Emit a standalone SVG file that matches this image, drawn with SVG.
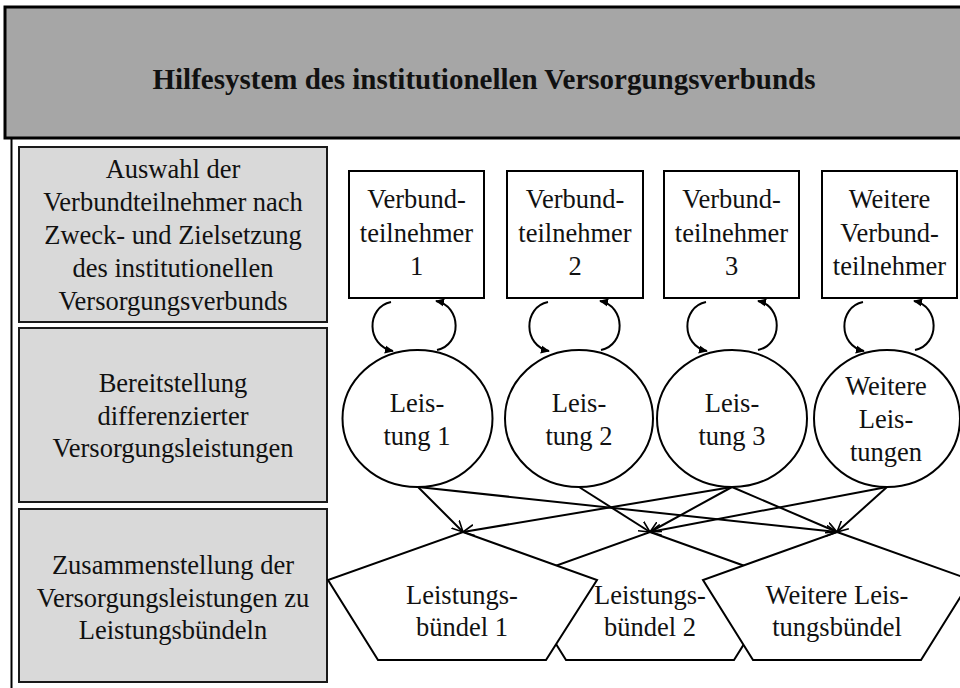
<svg xmlns="http://www.w3.org/2000/svg" width="960" height="688" viewBox="0 0 960 688">
  <style>
    text { font-family: "Liberation Serif", "DejaVu Serif", serif; font-size: 26.5px; fill: #111; text-anchor: middle; }
    .title { font-weight: bold; font-size: 29px; }
    .stage { fill: #d9d9d9; stroke: #1a1a1a; stroke-width: 2; }
    .shape { fill: #fff; stroke: #000; stroke-width: 2; }
    .link { fill: none; stroke: #000; stroke-width: 2; marker-end: url(#open); }
    .loop { fill: none; stroke: #000; stroke-width: 2; marker-end: url(#solid); }
  </style>
  <defs>
    <marker id="open" viewBox="0 0 12 12" refX="11" refY="6" markerWidth="12" markerHeight="12" markerUnits="userSpaceOnUse" orient="auto">
      <path d="M0,0.5 L11,6 L0,11.5" fill="none" stroke="#000" stroke-width="1.6"/>
    </marker>
    <marker id="solid" viewBox="0 0 10 10" refX="9" refY="5" markerWidth="9" markerHeight="9" markerUnits="userSpaceOnUse" orient="auto">
      <path d="M0,0.5 L10,5 L0,9.5 Z" fill="#000"/>
    </marker>
  </defs>

  <!-- frame and header -->
  <g id="header">
    <rect x="5" y="7" width="965" height="131" fill="#a6a6a6" stroke="#000" stroke-width="3"/>
    <text class="title" x="484" y="89">Hilfesystem des institutionellen Versorgungsverbunds</text>
  </g>
  <line x1="11.5" y1="138" x2="11.5" y2="688" stroke="#000" stroke-width="2"/>

  <!-- stage labels on the left -->
  <g id="stage-auswahl">
    <rect class="stage" x="19" y="147" width="308" height="175"/>
    <text x="173" y="178">Auswahl der</text>
    <text x="173" y="211">Verbundteilnehmer nach</text>
    <text x="173" y="244">Zweck- und Zielsetzung</text>
    <text x="173" y="277">des institutionellen</text>
    <text x="173" y="310">Versorgungsverbunds</text>
  </g>
  <g id="stage-bereitstellung">
    <rect class="stage" x="19" y="328" width="308" height="174"/>
    <text x="173" y="392">Bereitstellung</text>
    <text x="173" y="425">differenzierter</text>
    <text x="173" y="457">Versorgungsleistungen</text>
  </g>
  <g id="stage-zusammenstellung">
    <rect class="stage" x="19" y="509" width="308" height="173"/>
    <text x="173" y="574">Zusammenstellung der</text>
    <text x="173" y="607">Versorgungsleistungen zu</text>
    <text x="173" y="639">Leistungsbündeln</text>
  </g>

  <!-- participants -->
  <g id="teilnehmer-1">
    <rect class="shape" x="349" y="171" width="135" height="127"/>
    <text x="416.5" y="208">Verbund-</text>
    <text x="416.5" y="242">teilnehmer</text>
    <text x="416.5" y="275">1</text>
  </g>
  <g id="teilnehmer-2">
    <rect class="shape" x="507" y="171" width="136" height="127"/>
    <text x="575" y="208">Verbund-</text>
    <text x="575" y="242">teilnehmer</text>
    <text x="575" y="275">2</text>
  </g>
  <g id="teilnehmer-3">
    <rect class="shape" x="664" y="171" width="135" height="127"/>
    <text x="731.5" y="208">Verbund-</text>
    <text x="731.5" y="242">teilnehmer</text>
    <text x="731.5" y="275">3</text>
  </g>
  <g id="teilnehmer-weitere">
    <rect class="shape" x="822" y="171" width="135" height="127"/>
    <text x="889.5" y="208">Weitere</text>
    <text x="889.5" y="242">Verbund-</text>
    <text x="889.5" y="275">teilnehmer</text>
  </g>

  <!-- services -->
  <g id="leistung-1">
    <ellipse class="shape" cx="417.5" cy="418.5" rx="75" ry="68.5"/>
    <text x="417" y="412">Leis-</text>
    <text x="417" y="445">tung 1</text>
  </g>
  <g id="leistung-2">
    <ellipse class="shape" cx="579" cy="418.5" rx="74" ry="68.5"/>
    <text x="579" y="412">Leis-</text>
    <text x="579" y="445">tung 2</text>
  </g>
  <g id="leistung-3">
    <ellipse class="shape" cx="732" cy="418.5" rx="75" ry="68.5"/>
    <text x="732" y="412">Leis-</text>
    <text x="732" y="445">tung 3</text>
  </g>
  <g id="leistung-weitere">
    <ellipse class="shape" cx="887" cy="418.5" rx="73" ry="68.5"/>
    <text x="886" y="395">Weitere</text>
    <text x="886" y="428">Leis-</text>
    <text x="886" y="461">tungen</text>
  </g>

  <!-- service bundles (middle one sits behind its neighbours) -->
  <g id="buendel-2">
    <polygon class="shape" points="650,532 784,580 734,660 566,660 516,580"/>
    <text x="650" y="604">Leistungs-</text>
    <text x="650" y="636">bündel 2</text>
  </g>
  <g id="buendel-1">
    <polygon class="shape" points="463,532 597,580 546,660 378,660 328,580"/>
    <text x="462" y="604">Leistungs-</text>
    <text x="462" y="636">bündel 1</text>
  </g>
  <g id="buendel-weitere">
    <polygon class="shape" points="837,532 971,580 921,660 753,660 703,580"/>
    <text x="837" y="604">Weitere Leis-</text>
    <text x="837" y="636">tungsbündel</text>
  </g>

  <!-- connectors -->
  <g id="connectors">
    <!-- exchange loops between participant and service -->
    <path class="loop" d="M391,302 C366,307 366,346 393,351"/>
    <path class="loop" d="M437,350 C462,345 462,306 436,301"/>
    <path class="loop" d="M548,302 C523,307 523,346 549,351"/>
    <path class="loop" d="M601,350 C626,345 626,306 600,301"/>
    <path class="loop" d="M706,302 C681,307 681,346 707,351"/>
    <path class="loop" d="M758,350 C783,345 783,306 758,301"/>
    <path class="loop" d="M863,302 C838,307 838,346 864,351"/>
    <path class="loop" d="M915,350 C940,345 940,306 914,301"/>
    <!-- services into bundles -->
    <line class="link" x1="418" y1="487" x2="463" y2="532"/>
    <line class="link" x1="418" y1="487" x2="837" y2="532"/>
    <line class="link" x1="579" y1="487" x2="650" y2="532"/>
    <line class="link" x1="732" y1="487" x2="463" y2="532"/>
    <line class="link" x1="732" y1="487" x2="650" y2="532"/>
    <line class="link" x1="732" y1="487" x2="837" y2="532"/>
    <line class="link" x1="887" y1="487" x2="650" y2="532"/>
    <line class="link" x1="887" y1="487" x2="837" y2="532"/>
  </g>
</svg>
